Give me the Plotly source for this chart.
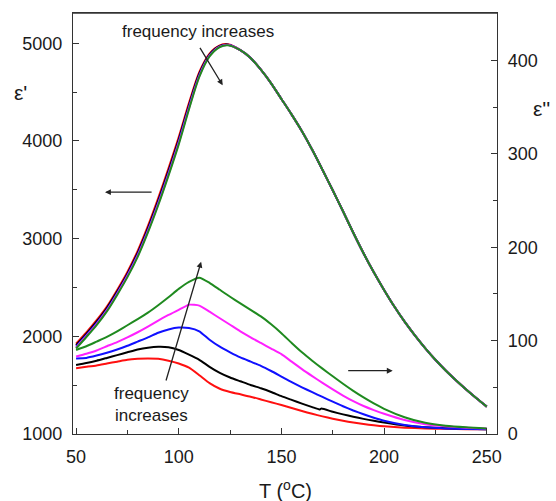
import plotly.graph_objects as go

# ---------------- data ----------------
# epsilon' (left axis) temperature grid
T_real = [50, 55, 60, 65, 70, 75, 80, 85, 90, 95, 100, 105, 110, 115, 120, 124,
          130, 135, 140, 145, 150, 155, 160, 165, 170, 175, 180, 185, 190, 195,
          200, 205, 210, 215, 220, 225, 230, 235, 240, 245, 250]

# rising part (50..124 C), one per frequency
eps1_rise_red     = [1925, 2040, 2165, 2305, 2475, 2660, 2875, 3130, 3415, 3720, 4040, 4390, 4705, 4895, 4978, 4990]
eps1_rise_black   = [1910, 2025, 2150, 2290, 2458, 2642, 2855, 3108, 3390, 3695, 4015, 4368, 4690, 4885, 4972, 4986]
eps1_rise_blue    = [1895, 2012, 2135, 2275, 2444, 2628, 2838, 3090, 3370, 3673, 3995, 4350, 4675, 4877, 4968, 4984]
eps1_rise_magenta = [1885, 2003, 2125, 2265, 2434, 2617, 2826, 3076, 3355, 3658, 3980, 4337, 4664, 4870, 4965, 4982]
eps1_rise_green   = [1875, 1993, 2115, 2255, 2424, 2606, 2814, 3064, 3342, 3645, 3965, 4325, 4655, 4865, 4962, 4980]
# falling part (130..250 C), curves coincide
eps1_fall = [4930, 4850, 4730, 4590, 4430, 4270, 4100, 3910, 3705, 3495, 3280, 3060, 2850,
             2655, 2475, 2305, 2150, 2010, 1880, 1760, 1650, 1550, 1455, 1365, 1280]

# epsilon'' (right axis)
T_loss = [50, 55, 60, 65, 70, 75, 80, 85, 90, 95, 100, 105, 110, 115, 120, 125, 130, 135,
          140, 145, 150, 155, 160, 165, 170, 175, 180, 185, 190, 195, 200, 210, 220, 230, 240, 250]
eps2_red = [70.5, 72, 73.5, 75.5, 77.5, 79.5, 80.5, 81, 80.5, 78.5, 75.5, 71, 63, 54.5, 48.5, 45,
            42.5, 40, 37, 34, 31, 27.8, 24.6, 21.6, 18.9, 16.4, 14.2, 12.3, 10.7, 9.3, 8.2, 6.8, 6, 5.5, 5.2, 5]
T_loss_black = [50, 55, 60, 65, 70, 75, 80, 85, 90, 95, 100, 105, 110, 115, 120, 125, 130, 135,
                140, 145, 150, 155, 160, 165, 168.5, 169.5, 175, 180, 185, 190, 195, 200, 210, 220, 230, 240, 250]
eps2_black = [74, 76, 78.5, 81.5, 84.5, 87.5, 90.5, 92.5, 93.5, 93, 90, 85, 79.5, 72, 65.5, 60.5,
              56.5, 52.5, 49, 45, 40.5, 36.5, 32.5, 28.8, 26.3, 27.2, 23.8, 21, 18.5, 16.2, 14.1, 12.2, 9, 7.2, 6.1, 5.5, 5]
eps2_blue = [81, 81.5, 84, 87, 90.5, 94.5, 99, 103.5, 108.5, 112, 114, 113.5, 110, 101, 93.5, 87.5,
             82, 77.5, 73, 67.5, 61.5, 55.5, 50, 44.8, 39.7, 34.6, 29.7, 25.2, 21.1, 17.4, 14.2, 9.6, 7.1, 5.9, 5.3, 5]
eps2_magenta = [83, 86, 89.5, 94, 98.5, 103.5, 109, 115, 121.5, 127.5, 133, 138.5, 137.5, 131, 124, 117,
                110, 103.5, 97.5, 91.5, 85.5, 77.5, 69.5, 62, 54.8, 47.8, 41.2, 35.2, 30, 25.6, 21.7, 15, 10.5, 8.2, 6.8, 6]
eps2_green = [90, 94, 99, 104, 110, 116.5, 123, 130, 138, 146.5, 155.5, 163, 167.5, 162, 154.5, 147,
              140, 133, 126, 117.5, 108, 97.5, 87.5, 78.5, 70, 61.8, 53.8, 46.2, 39.2, 32.8, 27, 18, 12, 8.8, 7.1, 6]

x_ticks = [50, 100, 150, 200, 250]
y1_ticks = [1000, 2000, 3000, 4000, 5000]
y2_ticks = [0, 100, 200, 300, 400]

# ---------------- styling ----------------
FONT = "Liberation Sans, Arial, sans-serif"
AX = "#333333"
TXT = "#1a1a1a"
colors = {"red": "#ff1010", "black": "#000000", "blue": "#1010ff",
          "magenta": "#ff20ff", "green": "#1f8a1f"}

fig = go.Figure()

rises = [("red", eps1_rise_red), ("black", eps1_rise_black), ("blue", eps1_rise_blue),
         ("magenta", eps1_rise_magenta), ("green", eps1_rise_green)]
for name, rise in rises:
    fig.add_trace(go.Scatter(x=T_real, y=rise + eps1_fall, mode="lines",
                             line=dict(color=colors[name], width=2, shape="spline", smoothing=0.8),
                             yaxis="y", showlegend=False, hoverinfo="skip"))

losses = [("red", T_loss, eps2_red), ("black", T_loss_black, eps2_black),
          ("blue", T_loss, eps2_blue), ("magenta", T_loss, eps2_magenta),
          ("green", T_loss, eps2_green)]
for name, tx, vals in losses:
    fig.add_trace(go.Scatter(x=tx, y=vals, mode="lines",
                             line=dict(color=colors[name], width=2, shape="spline", smoothing=0.5),
                             yaxis="y2", showlegend=False, hoverinfo="skip"))

common_axis = dict(showline=True, linecolor=AX, linewidth=1.4, ticks="inside",
                   ticklen=6, tickwidth=1.3, tickcolor=AX, showgrid=False,
                   zeroline=False, tickfont=dict(family=FONT, size=18, color=TXT),
                   automargin=False)

fig.update_layout(
    width=556, height=501,
    margin=dict(l=73, r=59, t=13, b=67),
    paper_bgcolor="white", plot_bgcolor="white",
    showlegend=False,
    xaxis=dict(range=[48.5, 255], tickvals=x_ticks, mirror=True,
               minor=dict(dtick=25, tick0=25, ticks="inside", ticklen=4, tickcolor=AX, tickwidth=1.2),
               ticklabelstandoff=6, **common_axis),
    yaxis=dict(range=[1000, 5310], tickvals=y1_ticks, mirror=False,
               minor=dict(dtick=500, tick0=500, ticks="inside", ticklen=4, tickcolor=AX, tickwidth=1.2),
               ticklabelstandoff=6, **common_axis),
    yaxis2=dict(range=[0, 451], tickvals=y2_ticks, overlaying="y", side="right",
                minor=dict(dtick=50, tick0=50, ticks="inside", ticklen=4, tickcolor=AX, tickwidth=1.2),
                ticklabelstandoff=6, **common_axis),
)

# top border line
fig.add_shape(type="line", xref="paper", yref="paper", x0=0, x1=1, y0=1, y1=1,
              line=dict(color=AX, width=1.4))

ann_font = dict(family=FONT, size=17, color=TXT)
title_font = dict(family=FONT, size=21, color=TXT)
annotations = [
    dict(text="frequency increases", x=0.295, y=0.957, xref="paper", yref="paper",
         showarrow=False, font=ann_font, xanchor="center", yanchor="middle"),
    dict(text="frequency<br>increases", x=0.186, y=0.071, xref="paper", yref="paper",
         showarrow=False, font=ann_font, xanchor="center", yanchor="middle"),
    dict(text="ε'", x=-0.125, y=0.81, xref="paper", yref="paper", showarrow=False,
         font=title_font, xanchor="center", yanchor="middle"),
    dict(text="ε''", x=1.104, y=0.774, xref="paper", yref="paper", showarrow=False,
         font=title_font, xanchor="center", yanchor="middle"),
    dict(text="T (<sup>o</sup>C)", x=0.502, y=-0.131, xref="paper", yref="paper",
         showarrow=False, font=dict(family=FONT, size=20, color=TXT),
         xanchor="center", yanchor="middle"),
]
arrows = [
    (64.1, 3476, 87.5, 3476),
    (204.2, 1648, 181.8, 1648),
    (121.4, 4570, 109.9, 4969),
    (110.9, 2763, 93.6, 1532),
]
for hx, hy, tx, ty in arrows:
    annotations.append(dict(x=hx, y=hy, ax=tx, ay=ty, xref="x", yref="y", axref="x", ayref="y",
                            showarrow=True, arrowhead=2, arrowsize=0.9, arrowwidth=1.3,
                            arrowcolor="#222222", text=""))
fig.update_layout(annotations=annotations)

fig.write_html("out.html")
